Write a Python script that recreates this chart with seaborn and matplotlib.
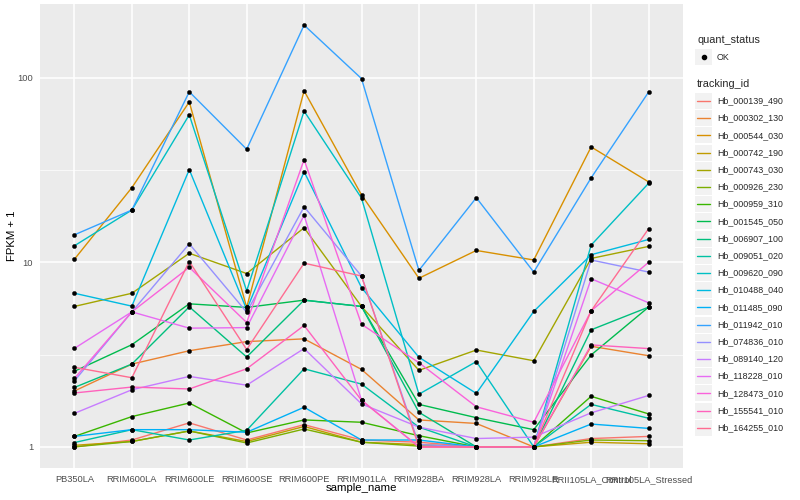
import numpy as np
import pandas as pd
import seaborn as sns
import matplotlib
matplotlib.use("Agg")
from matplotlib import pyplot as plt
from matplotlib.lines import Line2D
from matplotlib.patches import Rectangle

# ---- data (FPKM + 1) ----
samples = ["PB350LA", "RRIM600LA", "RRIM600LE", "RRIM600SE", "RRIM600PE",
           "RRIM901LA", "RRIM928BA", "RRIM928LA", "RRIM928LE",
           "RRII105LA_Control", "RRII105LA_Stressed"]

tracking_ids = ["Hb_000139_490", "Hb_000302_130", "Hb_000544_030", "Hb_000742_190",
                "Hb_000743_030", "Hb_000926_230", "Hb_000959_310", "Hb_001545_050",
                "Hb_006907_100", "Hb_009051_020", "Hb_009620_090", "Hb_010488_040",
                "Hb_011485_090", "Hb_011942_010", "Hb_074836_010", "Hb_089140_120",
                "Hb_118228_010", "Hb_128473_010", "Hb_155541_010", "Hb_164255_010"]

# ggplot2 hue palette, 20 levels
palette = ["#F8766D", "#EA8331", "#D89000", "#C09B00", "#A3A500", "#7CAE00",
           "#39B600", "#00BB4E", "#00BF7D", "#00C1A3", "#00BFC4", "#00BAE0",
           "#00B0F6", "#35A2FF", "#9590FF", "#C77CFF", "#E76BF3", "#FA62DB",
           "#FF62BC", "#FF6C91"]

hb_000139_490 = [1.0, 1.09, 1.35, 1.09, 1.32, 1.09, 1.06, 1.0, 1.0, 1.11, 1.14]
hb_000302_130 = [2.01, 2.81, 3.32, 3.72, 3.85, 2.63, 1.40, 1.34, 1.0, 3.51, 3.12]
hb_000544_030 = [10.4, 25.4, 74, 5.7, 85, 23.2, 8.2, 11.6, 10.3, 42.2, 27.3]
hb_000742_190 = [1.02, 1.07, 1.22, 1.07, 1.29, 1.06, 1.03, 1.0, 1.0, 1.06, 1.04]
hb_000743_030 = [5.77, 6.8, 11.2, 8.7, 15.4, 5.77, 2.60, 3.35, 2.93, 10.5, 12.2]
hb_000926_230 = [1.0, 1.07, 1.22, 1.05, 1.25, 1.06, 1.01, 1.0, 1.0, 1.09, 1.08]
hb_000959_310 = [1.14, 1.46, 1.73, 1.19, 1.40, 1.36, 1.15, 1.0, 1.0, 1.88, 1.51]
hb_001545_050 = [2.57, 3.58, 5.96, 5.7, 6.24, 5.77, 1.70, 1.44, 1.24, 3.15, 5.72]
hb_006907_100 = [2.10, 2.81, 5.74, 3.07, 6.24, 5.77, 1.54, 1.0, 1.0, 4.31, 5.72]
hb_009051_020 = [1.056, 1.24, 1.09, 1.23, 2.65, 2.19, 1.28, 1.0, 1.0, 1.70, 1.43]
hb_009620_090 = [12.3, 19.2, 63, 7.0, 66, 22.3, 1.93, 2.90, 1.0, 12.4, 26.8]
hb_010488_040 = [6.8, 5.79, 31.8, 5.55, 31, 7.3, 3.06, 1.95, 5.42, 11.0, 13.3]
hb_011485_090 = [1.14, 1.24, 1.24, 1.20, 1.64, 1.09, 1.09, 1.0, 1.0, 1.33, 1.26]
hb_011942_010 = [14.1, 19.2, 84, 41, 193, 99, 9.05, 22.4, 8.86, 28.7, 83.6]
hb_074836_010 = [2.28, 5.39, 12.6, 5.37, 20, 8.43, 1.03, 1.0, 1.0, 10.3, 8.86]
hb_089140_120 = [1.52, 2.04, 2.41, 2.16, 3.41, 1.71, 1.28, 1.11, 1.13, 1.53, 1.90]
hb_118228_010 = [3.42, 5.39, 4.40, 4.43, 18, 1.79, 1.0, 1.0, 1.0, 8.15, 6.04]
hb_128473_010 = [2.35, 5.39, 9.4, 4.72, 36, 4.62, 2.86, 1.65, 1.36, 5.46, 10.0]
hb_155541_010 = [1.96, 2.11, 2.06, 2.65, 4.55, 1.79, 1.0, 1.0, 1.0, 3.57, 3.41]
hb_164255_010 = [2.70, 2.37, 10.1, 3.37, 9.9, 8.43, 1.0, 1.0, 1.0, 5.46, 15.2]

series = [hb_000139_490, hb_000302_130, hb_000544_030, hb_000742_190, hb_000743_030,
          hb_000926_230, hb_000959_310, hb_001545_050, hb_006907_100, hb_009051_020,
          hb_009620_090, hb_010488_040, hb_011485_090, hb_011942_010, hb_074836_010,
          hb_089140_120, hb_118228_010, hb_128473_010, hb_155541_010, hb_164255_010]

rows = []
for tid, vals in zip(tracking_ids, series):
    for s, v in zip(samples, vals):
        rows.append({"tracking_id": tid, "sample_name": s, "fpkm": v, "quant_status": "OK"})
df = pd.DataFrame(rows)
df["sample_name"] = pd.Categorical(df["sample_name"], categories=samples, ordered=True)
df["x"] = df["sample_name"].cat.codes

# ---- figure ----
sns.set_style("darkgrid")
plt.rcParams["font.family"] = ["Liberation Sans", "DejaVu Sans"]

W, H = 800, 500
fig = plt.figure(figsize=(8, 5), dpi=100)
fig.patch.set_facecolor("white")
ax = fig.add_axes([40 / W, 1 - 468 / H, (683 - 40) / W, (468 - 4) / H])
ax.set_facecolor("#EBEBEB")

sns.lineplot(data=df, x="x", y="fpkm", hue="tracking_id", palette=palette,
             hue_order=tracking_ids, linewidth=1.0, legend=False, ax=ax,
             estimator=None, sort=False)
sns.scatterplot(data=df, x="x", y="fpkm", color="black", s=9, edgecolor="black",
                linewidth=0.3, legend=False, ax=ax, zorder=5)

ax.set_yscale("log")
lo, hi = np.log10(df["fpkm"].min()), np.log10(df["fpkm"].max())
pad = 0.05 * (hi - lo)
ax.set_ylim(10 ** (lo - pad), 10 ** (hi + pad))
ax.set_xlim(-0.6, len(samples) - 1 + 0.6)

ax.set_yticks([1, 10, 100])
ax.set_yticklabels(["1", "10", "100"])
ax.set_yticks([10 ** 0.5, 10 ** 1.5], minor=True)
ax.yaxis.set_minor_formatter(matplotlib.ticker.NullFormatter())
ax.set_xticks(range(len(samples)))
ax.set_xticklabels(samples)

ax.grid(False)
ax.grid(which="major", axis="both", color="white", linewidth=1.1)
ax.grid(which="minor", axis="y", color="white", linewidth=0.5)
ax.set_axisbelow(True)
for sp in ax.spines.values():
    sp.set_visible(False)
ax.tick_params(axis="both", which="major", length=3, width=0.8, color="#333333",
               labelsize=6.7, labelcolor="#4D4D4D", pad=2)
ax.tick_params(axis="y", which="minor", length=0)
ax.set_xlabel("sample_name", fontsize=8.2, color="black")
ax.set_ylabel("FPKM + 1", fontsize=8.2, color="black")
ax.xaxis.set_label_coords(0.5, -(483 - 468) / 464)
ax.yaxis.set_label_coords((17 - 40) / 643, 0.5)


# ---- legends (ggplot style, drawn in pixel coords) ----
def fx(px):
    return px / W


def fy(py):
    return 1 - py / H


fig.text(fx(697), fy(40), "quant_status", fontsize=7.8, va="center", ha="left")
fig.add_artist(Rectangle((fx(695), fy(65)), 17 / W, 16 / H, transform=fig.transFigure,
                         facecolor="#F2F2F2", edgecolor="none"))
fig.add_artist(Line2D([fx(704)], [fy(57)], transform=fig.transFigure, marker="o",
                      markersize=3, color="black", linestyle="none"))
fig.text(fx(717), fy(57), "OK", fontsize=6.4, va="center", ha="left")

fig.text(fx(697), fy(84), "tracking_id", fontsize=7.8, va="center", ha="left")
y0, step = 101, 17.2
for i, (tid, col) in enumerate(zip(tracking_ids, palette)):
    yc = y0 + i * step
    fig.add_artist(Rectangle((fx(695), fy(yc + 8)), 17 / W, 16 / H,
                             transform=fig.transFigure, facecolor="#F2F2F2",
                             edgecolor="none"))
    fig.add_artist(Line2D([fx(697), fx(710)], [fy(yc), fy(yc)], transform=fig.transFigure,
                          color=col, linewidth=1.0))
    fig.text(fx(717), fy(yc), tid, fontsize=6.4, va="center", ha="left")

fig.savefig("out.png", dpi=100)
